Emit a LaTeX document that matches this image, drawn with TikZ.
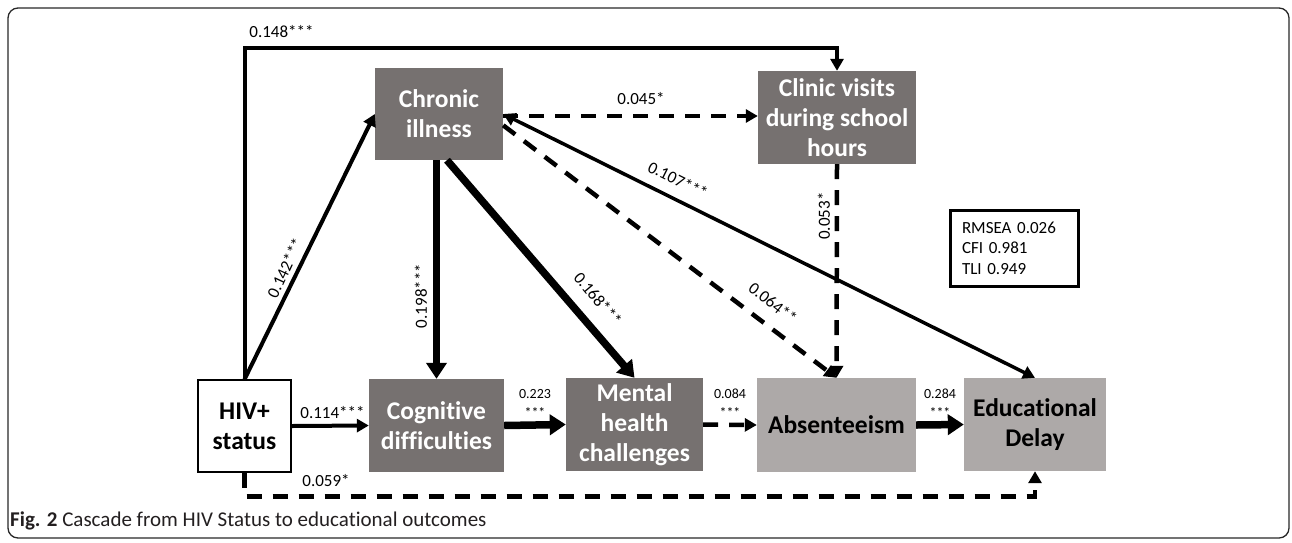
\documentclass[tikz,border=0pt]{standalone}
\usepackage{fontspec}
\setmainfont{Carlito}[Ligatures={NoCommon}]
\usetikzlibrary{arrows.meta,calc}
\definecolor{darkbox}{RGB}{118,113,112}
\definecolor{lightbox}{RGB}{173,169,168}
\definecolor{framec}{RGB}{40,40,40}
\definecolor{capc}{RGB}{35,31,32}
\begin{document}
\begin{tikzpicture}[x=1pt,y=-1pt,
  boxlbl/.style={font=\fontsize{25.5}{30}\selectfont\bfseries, align=center, inner sep=0pt},
  darkn/.style={boxlbl, fill=darkbox, text=white},
  lightn/.style={boxlbl, fill=lightbox, text=black},
  lbl/.style={font=\fontsize{17}{20}\selectfont, inner sep=0pt},
  slbl/.style={font=\fontsize{14}{19}\selectfont, inner sep=0pt, align=center},
  thinarr/.style={line width=4pt, -{Triangle[length=12pt,width=13pt]}},
  thickarr/.style={line width=7.5pt, -{Triangle[length=16pt,width=20pt]}},
  dsh/.style={line width=4.5pt, dash pattern=on 15pt off 11pt, -{Triangle[length=12pt,width=13pt]}},
]
\useasboundingbox (0,0) rectangle (1292,542);
\draw[framec, line width=1.3pt, rounded corners=10pt] (8,8) rectangle (1289,538);

% boxes
\node[darkn, minimum width=128pt, minimum height=92pt] (chronic) at (439,114) {Chronic\\illness};
\node[darkn, minimum width=158pt, minimum height=93pt] (clinic) at (837,117.5) {Clinic visits\\during school\\hours};
\node[boxlbl, draw, line width=1.2pt, fill=white, minimum width=93pt, minimum height=92pt] (hiv) at (244.5,426) {HIV+\\status};
\node[darkn, minimum width=135pt, minimum height=93pt] (cog) at (436.5,425.5) {Cognitive\\difficulties};
\node[darkn, minimum width=137pt, minimum height=93pt] (mental) at (634.5,424.5) {Mental\\health\\challenges};
\node[lightn, minimum width=159pt, minimum height=94pt] (absent) at (836.5,425) {Absenteeism};
\node[lightn, minimum width=142pt, minimum height=93pt] (edu) at (1035,424.5) {Educational\\Delay};

% connectors
\coordinate (tr) at (837,48);
\draw[thinarr] (hiv.north) |- (tr) -- (clinic.north);
\draw[thinarr] (hiv.north) -- (chronic.west);
\draw[thinarr] (hiv.east) -- (cog.west);
\draw[dsh] (hiv.south) -- ++(0,24) -| (edu.south);
\draw[dsh] ([yshift=-2pt]chronic.east) -- ([yshift=-2pt]chronic.east -| clinic.west);
\draw[thickarr] (chronic.south -| cog.north) -- (cog.north);
\draw[thickarr] ([xshift=8pt]chronic.south) -- (mental.north);
\draw[dsh] (chronic.-10) -- (absent.north);
\draw[line width=3.5pt, {Triangle[length=12pt,width=13pt]}-{Triangle[length=12pt,width=13pt]}] (chronic.east) -- (edu.north);
\draw[dsh] (clinic.south) -- (absent.north);
\draw[thickarr] (cog.east) -- (mental.west);
\draw[dsh] (mental.east) -- (absent.west);
\draw[thickarr] (absent.east) -- (edu.west);

% labels
\node[lbl] (l148) at (281.5,31.5) {0.148***};
\node[lbl] (l045) at (641,99) {0.045*};
\node[lbl, rotate=65] (l142) at (285,268) {0.142***};
\node[lbl, rotate=90] (l198) at (421,296) {0.198***};
\node[lbl, rotate=-50] (l168) at (598,299) {0.168***};
\node[lbl, rotate=-38] (l064) at (773,303) {0.064**};
\node[lbl, rotate=-26.5] (l107) at (678,180) {0.107***};
\node[lbl, rotate=90] (l053) at (824,216) {0.053*};
\node[lbl] (l114) at (332.5,413) {0.114***};
\node[lbl] (l059) at (326,480.5) {0.059*};
\node[slbl] (l223) at (535,403) {0.223\\***};
\node[slbl] (l084) at (730,403) {0.084\\***};
\node[slbl] (l284) at (940,403) {0.284\\***};

\node[draw, line width=3pt, minimum width=128pt, minimum height=76pt, font=\fontsize{17}{20.5}\selectfont, align=left, text width=104pt, inner sep=0pt] (fit) at (1014,248) {RMSEA 0.026\\CFI 0.981\\TLI 0.949};

\node[anchor=base west, font=\fontsize{21}{24}\selectfont, inner sep=0pt, text=capc] (cap) at (10,526) {\textbf{Fig. 2} Cascade from HIV Status to educational outcomes};
\end{tikzpicture}
\end{document}
